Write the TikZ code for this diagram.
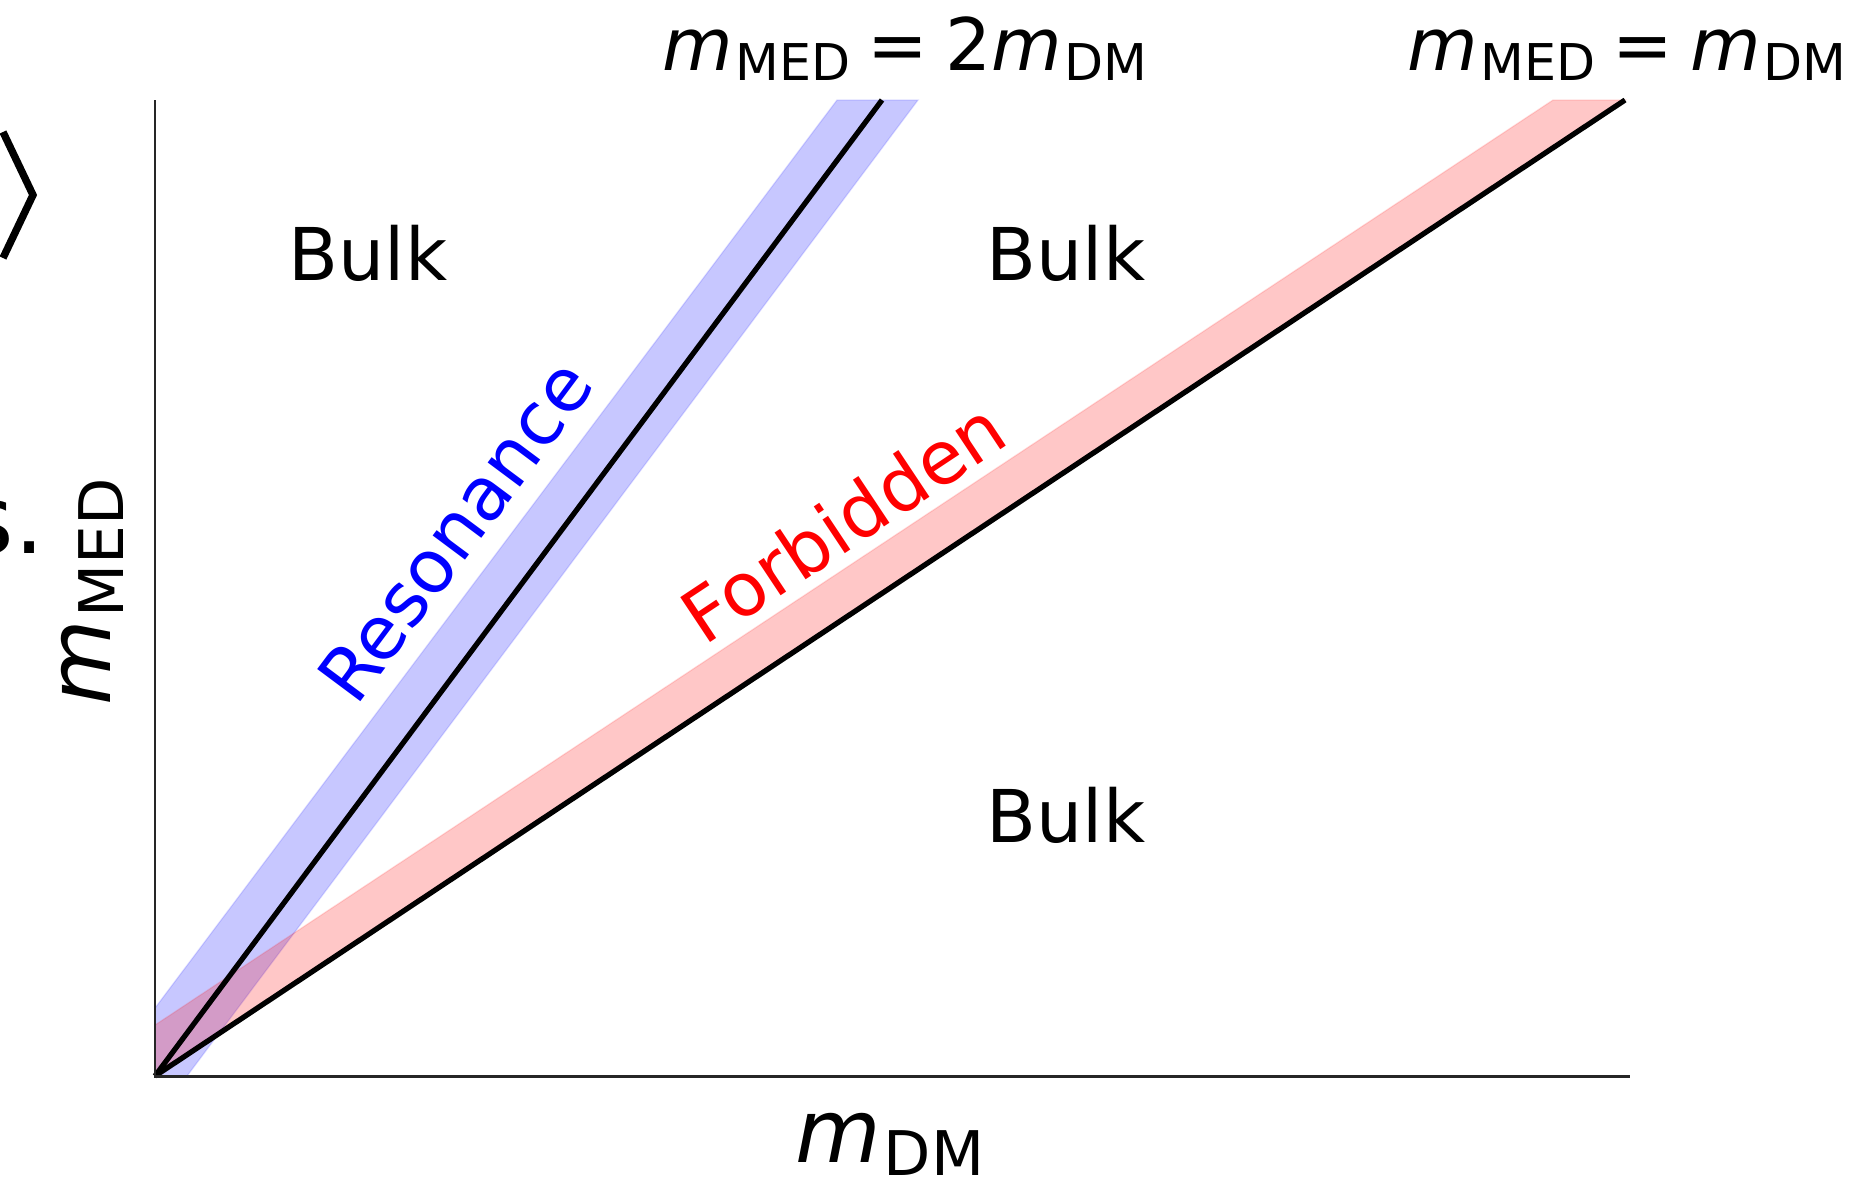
\documentclass[tikz,border=0pt]{standalone}
\usepackage{fontspec}
\setmainfont{DejaVu Sans}
\usepackage{tikz}
\usetikzlibrary{calc}
\definecolor{resblue}{HTML}{0000FF}
\definecolor{forbred}{HTML}{FF0000}
\newcommand{\msub}[1]{\textit{m}\kern0.03em\raisebox{-0.15em}{\scalebox{0.7}{#1}}}
\newcommand{\eqsign}{\kern0.24em=\kern0.24em}

\begin{document}
\begin{tikzpicture}[
  x=0.01cm, y=-0.01cm,
  band/.style={fill=#1, fill opacity=0.22, draw=#1, draw opacity=0.12, line width=0.4pt},
  axis/.style={line width=0.85pt, black!85},
  ratio/.style={line width=1.5pt, black},
  region/.style={font=\fontsize{20.7}{25}\selectfont},
  bandlabel/.style={font=\fontsize{21}{25}\selectfont, text=#1},
  toplabel/.style={font=\fontsize{20.6}{25}\selectfont, anchor=base west, inner sep=0pt},
  axislabel/.style={font=\fontsize{25}{30}\selectfont, inner sep=0pt}
]
\useasboundingbox (0,0) rectangle (1855,1178);

% Axes corners
\coordinate (O) at (155,1076);
\coordinate (X) at (1630,1076);
\coordinate (Y) at (155,100);
\coordinate (res) at (882,100);
\coordinate (forb) at (1625,100);

% Bands
\path[band=resblue] (155,1008) -- (837,100) -- (918,100) -- (187,1076) -- (O) -- cycle;
\path[band=forbred] (155,1025) -- (1553,100) -- (forb) -- (O) -- cycle;

% Lines
\draw[ratio] (O) -- (res);
\draw[ratio] (O) -- (forb);

% Axes
\draw[axis] (Y) -- (O) -- (X);

% Regions
\node[region, anchor=base] (bulkA) at (368,280) {Bulk};
\node[region, anchor=base] (bulkB) at (1066,280) {Bulk};
\node[region, anchor=base] (bulkC) at (1066,842) {Bulk};

% Band labels
\node[bandlabel=resblue, rotate=53.3] (resonance) at (455,531) {Resonance};
\node[bandlabel=forbred, rotate=33.6] (forbidden) at (843,522) {Forbidden};

% Line labels
\node[toplabel] (twoline) at (662,70) {\msub{MED}\eqsign2\msub{DM}};
\node[toplabel] (oneline) at (1407,70) {\msub{MED}\eqsign\msub{DM}};

% Axis labels
\node[axislabel, anchor=base] (xlab) at (890,1162) {\msub{DM}};
\node[axislabel, anchor=base, rotate=90] (ylab) at (110,592) {\msub{MED}};

% Cut text at left edge
\draw[line width=2.1pt] (3,132) -- (33,195) -- (3,258);
\node[font=\fontsize{27}{32}\selectfont, anchor=base east, inner sep=0pt] (cut) at (45,553) {s.};

\end{tikzpicture}
\end{document}
